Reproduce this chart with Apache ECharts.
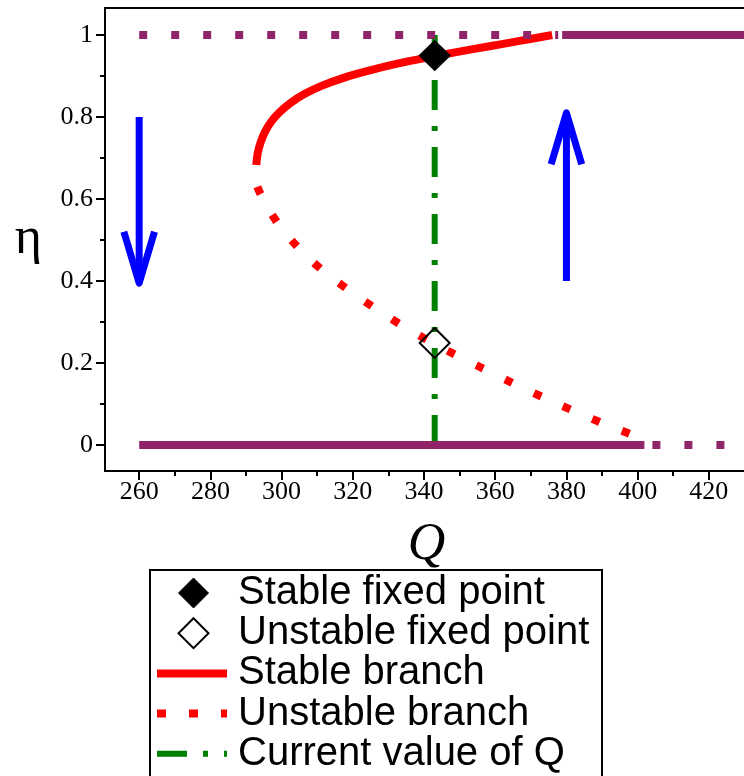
<!DOCTYPE html>
<html>
<head>
<meta charset="utf-8">
<script src="https://cdn.jsdelivr.net/npm/echarts@6/dist/echarts.min.js"></script>
<style>
html,body{margin:0;padding:0;background:#fff;}
#chart{width:744px;height:776px;}
</style>
</head>
<body>
<div id="chart"></div>
<script>
// ---- data ----
const qTicks = [260, 280, 300, 320, 340, 360, 380, 400, 420];
const qMinorTicks = [270, 290, 310, 330, 350, 370, 390, 410, 430];
const etaTicks = [0, 0.2, 0.4, 0.6, 0.8, 1];
const etaMinorTicks = [0.1, 0.3, 0.5, 0.7, 0.9];

const stableBranch = [
  [292.9, 0.683], [293.3, 0.712], [294.1, 0.738], [295.4, 0.765], [297.2, 0.790],
  [299.6, 0.813], [302.6, 0.835], [306.4, 0.856], [311.2, 0.876], [317.2, 0.895],
  [324.5, 0.913], [332.5, 0.930], [341.0, 0.945], [349.5, 0.959], [358.0, 0.972],
  [366.5, 0.985], [376, 1.0]
];
const unstableBranch = [
  [293.2, 0.630], [294.1, 0.612], [298.5, 0.546], [304.4, 0.484], [310.8, 0.431],
  [318, 0.383], [325.3, 0.339], [332.8, 0.297], [340.5, 0.258], [350, 0.215],
  [360, 0.172], [370, 0.130], [381.3, 0.086], [389.7, 0.055], [397.8, 0.027],
  [401.9, 0.012]
];
const etaOneUnstable = [[260, 1], [377.7, 1]];
const etaOneStable = [[378.8, 1], [431, 1]];
const etaZeroStable = [[260, 0], [401.9, 0]];
const etaZeroUnstable = [[401.9, 0], [424.4, 0]];
const currentQ = 343;
const currentQLine = [[currentQ, 0], [currentQ, 1]];
const stablePoint = [[currentQ, 0.95]];
const unstablePoint = [[currentQ, 0.249]];
const arrows = [
  { q: 260, from: 0.8, to: 0.395 },
  { q: 380, from: 0.4, to: 0.81 }
];
const legendLabels = ['Stable fixed point', 'Unstable fixed point', 'Stable branch', 'Unstable branch', 'Current value of Q'];

// ---- style ----
const PURPLE = '#8F2468';
const RED = '#FF0000';
const GREEN = '#008000';
const BLUE = '#0000FF';
const dotPattern = [8, 24];
const dashDot = [30, 16, 5, 16];
const serif = 'Liberation Serif';
const sans = 'Liberation Sans';

function lineSeries(data, color, width, type, extra) {
  return Object.assign({
    type: 'line', data: data, symbol: 'none', showSymbol: false, silent: true,
    animation: false, xAxisIndex: 0, yAxisIndex: 0,
    lineStyle: { color: color, width: width, type: type, cap: 'butt', join: 'round' }
  }, extra || {});
}

const series = [];
series.push(lineSeries(stableBranch, RED, 8, 'solid', { smooth: 0.35, z: 2 }));
series.push(lineSeries(unstableBranch, RED, 8, dotPattern, { smooth: 0.35, z: 2 }));
series.push(lineSeries(currentQLine, GREEN, 6, dashDot, { z: 3 }));
series.push(lineSeries(etaOneUnstable, PURPLE, 8, dotPattern, { z: 4 }));
series.push(lineSeries(etaOneStable, PURPLE, 8, 'solid', { z: 4 }));
series.push(lineSeries(etaZeroUnstable, PURPLE, 8, dotPattern, { z: 4 }));
series[series.length - 1].lineStyle.dashOffset = 24;
series.push(lineSeries(etaZeroStable, PURPLE, 8, 'solid', { z: 4 }));

const headHalfWidth = 4.3, headLen = 0.125;
arrows.forEach(a => {
  const dir = a.to > a.from ? 1 : -1;
  series.push(lineSeries([[a.q, a.from], [a.q, a.to]], BLUE, 7, 'solid', { z: 5 }));
  const back = a.to - dir * headLen;
  series.push(lineSeries([[a.q - headHalfWidth, back], [a.q, a.to], [a.q + headHalfWidth, back]], BLUE, 7, 'solid', { z: 5 }));
});

series.push({
  type: 'scatter', data: stablePoint, symbol: 'diamond', symbolSize: [31, 30], silent: true,
  animation: false, z: 6,
  itemStyle: { color: '#000', borderColor: '#000', borderWidth: 1, opacity: 1 }
});
series.push({
  type: 'scatter', data: unstablePoint, symbol: 'diamond', symbolSize: [30, 30], silent: true,
  animation: false, z: 6,
  itemStyle: { color: 'rgba(0,0,0,0)', borderColor: '#000', borderWidth: 2, opacity: 1 }
});

// legend (drawn as graphic)
const legX = 150, legY = 570, rowY0 = 593, rowStep = 40.2, textX = 238;
const g = [];
g.push({ type: 'rect', shape: { x: legX, y: legY, width: 452, height: 230 },
  style: { fill: '#fff', stroke: '#000', lineWidth: 2 }, z: 100 });
function diamondPts(cx, cy, r) { return [[cx, cy - r], [cx + r, cy], [cx, cy + r], [cx - r, cy]]; }
g.push({ type: 'polygon', shape: { points: diamondPts(193.5, rowY0, 15) }, style: { fill: '#000', stroke: '#000', lineWidth: 1 }, z: 101 });
g.push({ type: 'polygon', shape: { points: diamondPts(193.5, rowY0 + rowStep, 15) }, style: { fill: 'none', stroke: '#000', lineWidth: 2 }, z: 101 });
g.push({ type: 'line', shape: { x1: 157, y1: rowY0 + 2 * rowStep, x2: 227, y2: rowY0 + 2 * rowStep }, style: { stroke: RED, lineWidth: 8 }, z: 101 });
g.push({ type: 'line', shape: { x1: 157, y1: rowY0 + 3 * rowStep, x2: 227, y2: rowY0 + 3 * rowStep }, style: { stroke: RED, lineWidth: 8, lineDash: [9, 23] }, z: 101 });
g.push({ type: 'line', shape: { x1: 157, y1: rowY0 + 4 * rowStep, x2: 227, y2: rowY0 + 4 * rowStep }, style: { stroke: GREEN, lineWidth: 6, lineDash: dashDot }, z: 101 });
legendLabels.forEach((t, i) => {
  g.push({ type: 'text', x: textX, y: rowY0 + i * rowStep, z: 101,
    style: { text: t, fontFamily: sans, fontSize: 40, fill: '#000', textAlign: 'left', textVerticalAlign: 'middle' } });
});

const fmt = v => String(+(+v).toFixed(1));

const option = {
  backgroundColor: '#fff',
  animation: false,
  grid: { left: 105, top: 8, right: -4, bottom: 305, show: true, borderColor: '#000', borderWidth: 2,
    containLabel: false, outerBoundsMode: 'none' },
  xAxis: [
    { type: 'value', min: 250.4, max: 431, position: 'bottom',
      axisLine: { show: true, onZero: false, lineStyle: { color: '#000', width: 2 } },
      axisTick: { show: true, customValues: qTicks, length: 9, lineStyle: { color: '#000', width: 2 } },
      axisLabel: { customValues: qTicks, fontFamily: serif, fontSize: 26, color: '#000', margin: 8 },
      splitLine: { show: false },
      name: 'Q', nameLocation: 'middle', nameGap: 48,
      nameTextStyle: { fontFamily: serif, fontStyle: 'italic', fontSize: 52, color: '#000' } },
    { type: 'value', min: 250.4, max: 431, position: 'bottom',
      axisLine: { show: false, onZero: false },
      axisTick: { show: true, customValues: qMinorTicks, length: 5, lineStyle: { color: '#000', width: 2 } },
      axisLabel: { show: false }, splitLine: { show: false } }
  ],
  yAxis: [
    { type: 'value', min: -0.0634, max: 1.0659, position: 'left',
      axisLine: { show: true, onZero: false, lineStyle: { color: '#000', width: 2 } },
      axisTick: { show: true, customValues: etaTicks, length: 9, lineStyle: { color: '#000', width: 2 } },
      axisLabel: { customValues: etaTicks, formatter: fmt, fontFamily: serif, fontSize: 26, color: '#000', margin: 12 },
      splitLine: { show: false },
      name: 'η', nameLocation: 'middle', nameRotate: 0, nameGap: 63,
      nameTextStyle: { fontFamily: serif, fontSize: 52, color: '#000', padding: [14, 0, 0, 0] } },
    { type: 'value', min: -0.0634, max: 1.0659, position: 'left',
      axisLine: { show: false, onZero: false },
      axisTick: { show: true, customValues: etaMinorTicks, length: 5, lineStyle: { color: '#000', width: 2 } },
      axisLabel: { show: false }, splitLine: { show: false } }
  ],
  series: series,
  graphic: g
};

const chart = echarts.init(document.getElementById('chart'), null, { renderer: 'canvas' });
chart.setOption(option);
</script>
</body>
</html>
